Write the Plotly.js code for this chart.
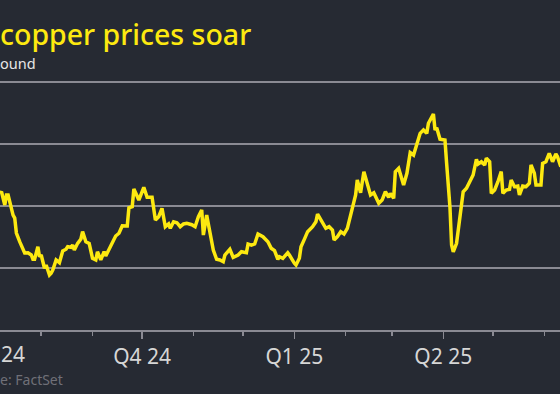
<!DOCTYPE html>
<html>
<head>
<meta charset="utf-8">
<script src="https://cdn.plot.ly/plotly-3.0.1.min.js"></script>
<style>
  html, body { margin: 0; padding: 0; background: #262a33; overflow: hidden; width: 560px; height: 394px; }
  #chart { width: 560px; height: 394px; }
</style>
</head>
<body>
<div id="chart"></div>
<script>
// Copper price, dollars per pound
const dates = [
  '2024-07-07','2024-07-08','2024-07-10','2024-07-11','2024-07-12','2024-07-13','2024-07-15','2024-07-16','2024-07-17','2024-07-19',
  '2024-07-22','2024-07-24','2024-07-26','2024-07-27','2024-07-28','2024-07-30','2024-07-31','2024-08-01','2024-08-03','2024-08-04',
  '2024-08-06','2024-08-07','2024-08-08','2024-08-10','2024-08-12','2024-08-14','2024-08-16','2024-08-17','2024-08-19','2024-08-20',
  '2024-08-21','2024-08-23','2024-08-25','2024-08-26','2024-08-28','2024-08-30','2024-09-01','2024-09-03','2024-09-04','2024-09-06',
  '2024-09-08','2024-09-09','2024-09-12','2024-09-15','2024-09-17','2024-09-19','2024-09-22','2024-09-23','2024-09-25','2024-09-26',
  '2024-09-29','2024-10-02','2024-10-04','2024-10-07','2024-10-09','2024-10-11','2024-10-13','2024-10-15','2024-10-17','2024-10-18',
  '2024-10-20','2024-10-22','2024-10-24','2024-10-26','2024-10-28','2024-10-31','2024-11-02','2024-11-04','2024-11-06','2024-11-07',
  '2024-11-09','2024-11-11','2024-11-13','2024-11-15','2024-11-17','2024-11-19','2024-11-20','2024-11-23','2024-11-25','2024-11-28',
  '2024-11-30','2024-12-03','2024-12-04','2024-12-06','2024-12-08','2024-12-10','2024-12-13','2024-12-16','2024-12-18','2024-12-20',
  '2024-12-22','2024-12-23','2024-12-25','2024-12-28','2024-12-29','2025-01-01','2025-01-02','2025-01-04','2025-01-05','2025-01-07',
  '2025-01-09','2025-01-12','2025-01-14','2025-01-15','2025-01-18','2025-01-20','2025-01-22','2025-01-24','2025-01-25','2025-01-27',
  '2025-01-29','2025-01-31','2025-02-02','2025-02-04','2025-02-05','2025-02-07','2025-02-08','2025-02-10','2025-02-12','2025-02-14',
  '2025-02-16','2025-02-18','2025-02-21','2025-02-23','2025-02-25','2025-02-27','2025-02-28','2025-03-02','2025-03-03','2025-03-05',
  '2025-03-08','2025-03-10','2025-03-12','2025-03-14','2025-03-18','2025-03-20','2025-03-22','2025-03-23','2025-03-26','2025-03-27',
  '2025-03-28','2025-03-30','2025-04-02','2025-04-03','2025-04-05','2025-04-06','2025-04-07','2025-04-09','2025-04-11','2025-04-13',
  '2025-04-15','2025-04-17','2025-04-18','2025-04-19','2025-04-21','2025-04-22','2025-04-24','2025-04-26','2025-04-27','2025-04-29',
  '2025-04-30','2025-05-02','2025-05-04','2025-05-06','2025-05-07','2025-05-09','2025-05-11','2025-05-12','2025-05-14','2025-05-16',
  '2025-05-17','2025-05-19','2025-05-21','2025-05-23','2025-05-24','2025-05-26','2025-05-27','2025-05-30','2025-05-31','2025-06-02',
  '2025-06-04','2025-06-06','2025-06-08','2025-06-09','2025-06-11'
];
const prices = [
  4.602,4.615,4.508,4.589,4.589,4.535,4.427,4.403,4.282,4.212,
  4.121,4.123,4.105,4.070,4.070,4.172,4.091,4.105,3.998,4.024,
  3.944,3.957,3.984,4.065,4.043,4.137,4.151,4.172,4.167,4.185,
  4.145,4.199,4.234,4.293,4.212,4.199,4.078,4.065,4.131,4.065,
  4.131,4.097,4.185,4.258,4.280,4.341,4.339,4.486,4.494,4.637,
  4.548,4.651,4.570,4.570,4.387,4.414,4.481,4.333,4.355,4.320,
  4.373,4.365,4.333,4.355,4.360,4.349,4.333,4.414,4.468,4.266,
  4.427,4.280,4.145,4.070,4.065,4.051,4.105,4.151,4.086,4.105,
  4.131,4.123,4.194,4.185,4.194,4.274,4.252,4.212,4.159,4.140,
  4.070,4.091,4.078,4.123,4.105,4.038,4.024,4.078,4.172,4.231,
  4.293,4.333,4.373,4.435,4.360,4.320,4.333,4.306,4.226,4.252,
  4.293,4.274,4.320,4.427,4.468,4.589,4.710,4.607,4.777,4.683,
  4.589,4.607,4.522,4.548,4.615,4.570,4.602,4.562,4.777,4.804,
  4.669,4.764,4.930,4.911,5.086,5.113,5.086,5.167,5.242,5.113,
  5.131,5.038,5.032,4.844,4.494,4.185,4.131,4.199,4.387,4.615,
  4.643,4.696,4.736,4.750,4.877,4.839,4.857,4.831,4.885,4.857,
  4.602,4.629,4.696,4.777,4.602,4.629,4.635,4.710,4.656,4.661,
  4.589,4.661,4.656,4.683,4.831,4.764,4.669,4.669,4.844,4.857,
  4.925,4.857,4.919,4.898,4.817
];
// Quarter ticks inside the visible window and their labels
const quarterTicks = ['2024-10-01','2025-01-01','2025-04-01'];
const quarterLabels = ['Q4 24','Q1 25','Q2 25'];
// Part of the Q3 24 label that shows at the left edge
const edgeLabel = '24';
const monthTicks = ['2024-08-01','2024-09-01','2024-11-01','2024-12-01','2025-02-01','2025-03-01','2025-05-01','2025-06-01'];
const gridValues = [4.0, 4.5, 5.0, 5.5];

const titleText = 'copper prices soar';
const subtitleText = 'ound';
const sourceText = 'e: FactSet';

const YELLOW = '#fde910';
const BG = '#262a33';
const GRID = '#8a8a93';
const TICKCOL = '#d6d6d6';
const FONT = '"Noto Sans", "Open Sans", sans-serif';

const trace = {
  x: dates, y: prices, type: 'scatter', mode: 'lines',
  line: { color: YELLOW, width: 3.5 },
  hoverinfo: 'skip'
};

const annBase = { xref: 'paper', yref: 'paper', showarrow: false, borderpad: 0, borderwidth: 0, xanchor: 'left', yanchor: 'middle' };

const layout = {
  width: 560, height: 394,
  margin: { l: 0, r: 0, t: 70, b: 64, pad: 0 },
  paper_bgcolor: BG, plot_bgcolor: BG,
  showlegend: false,
  font: { family: FONT, color: TICKCOL },
  xaxis: {
    type: 'date',
    range: ['2024-07-07 02:25', '2025-06-10 12:15'],
    tickmode: 'array', tickvals: quarterTicks, ticktext: quarterLabels,
    ticks: 'outside', ticklen: 7, tickwidth: 1.5, tickcolor: GRID,
    showline: true, linecolor: GRID, linewidth: 2,
    showgrid: false, zeroline: false,
    tickfont: { family: FONT, size: 21, color: TICKCOL },
    minor: { tickmode: 'array', tickvals: monthTicks, ticks: 'outside', ticklen: 4, tickwidth: 1.5, tickcolor: GRID, showgrid: false },
    fixedrange: true
  },
  yaxis: {
    range: [3.5, 5.5968],
    tickmode: 'array', tickvals: gridValues,
    showticklabels: false, ticks: '',
    showgrid: true, gridcolor: GRID, gridwidth: 2,
    zeroline: false, showline: false,
    fixedrange: true
  },
  annotations: [
    Object.assign({}, annBase, { text: titleText, x: 0, y: 1.1369,
      font: { family: FONT, size: 28.5, color: YELLOW, weight: 500 } }),
    Object.assign({}, annBase, { text: subtitleText, x: 0, y: 1.0262,
      font: { family: FONT, size: 14.5, color: '#e6e6e6' } }),
    Object.assign({}, annBase, { text: sourceText, x: 0, y: -0.1923,
      font: { family: FONT, size: 14, color: '#707078' } }),
    Object.assign({}, annBase, { text: edgeLabel, x: 0.5 / 560, y: -0.0935,
      font: { family: FONT, size: 21, color: TICKCOL } })
  ]
};

Plotly.newPlot('chart', [trace], layout, { staticPlot: true, displayModeBar: false });
</script>
</body>
</html>
